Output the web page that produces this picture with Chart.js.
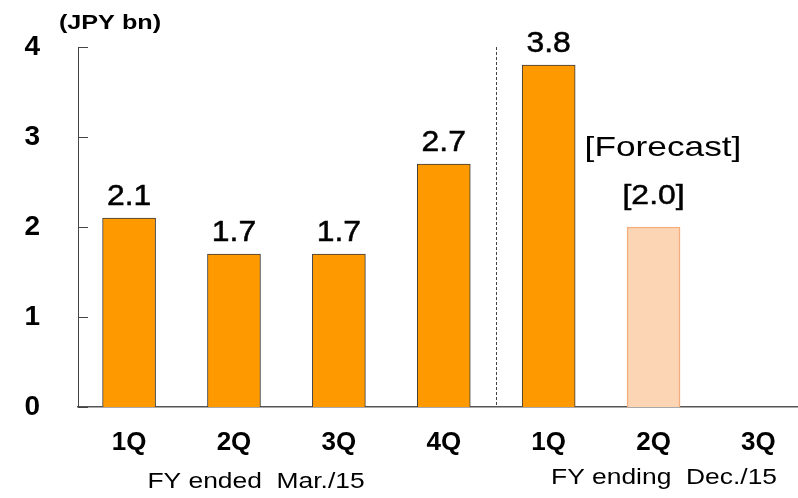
<!DOCTYPE html>
<html>
<head>
<meta charset="utf-8">
<script src="https://cdn.jsdelivr.net/npm/chart.js@4"></script>
<style>
  html, body { margin: 0; padding: 0; background: #fff; overflow: hidden; }
  #wrap { width: 798px; height: 498px; }
</style>
</head>
<body>
<div id="wrap"><canvas id="c" width="798" height="498"></canvas></div>
<script>
// Quarterly figures (JPY bn)
const quarters = ['1Q', '2Q', '3Q', '4Q', '1Q', '2Q', '3Q'];
const actualValues = [2.1, 1.7, 1.7, 2.7, 3.8, null, null];
const forecastValues = [null, null, null, null, null, 2.0, null];
const yTickValues = [0, 1, 2, 3, 4];
const unitText = '(JPY bn)';
const forecastText = '[Forecast]';
const fiscalYearLabels = ['FY ended  Mar./15', 'FY ending  Dec./15'];

const FONT = '"Liberation Sans", Arial, sans-serif';

function toPoints(values) {
  return values
    .map((v, i) => (v === null ? null : { x: i, y: v }))
    .filter(p => p !== null);
}

// Text drawn with an optional horizontal widening and a light outline for weight
function wideText(ctx, text, x, y, font, stretch, heavy) {
  ctx.save();
  ctx.font = font;
  ctx.fillStyle = '#000';
  ctx.strokeStyle = '#000';
  ctx.textAlign = 'center';
  ctx.textBaseline = 'middle';
  ctx.translate(x, y);
  ctx.scale(stretch, 1);
  ctx.fillText(text, 0, 0);
  if (heavy) {
    ctx.lineWidth = heavy;
    ctx.strokeText(text, 0, 0);
  }
  ctx.restore();
}

const annotations = {
  id: 'annotations',
  afterDatasetsDraw(chart) {
    const { ctx, chartArea, scales } = chart;
    const xs = scales.x, ys = scales.y;

    // inward tick marks on the value axis
    ctx.save();
    ctx.strokeStyle = '#444';
    ctx.lineWidth = 1;
    yTickValues.forEach(v => {
      const py = Math.round(ys.getPixelForValue(v)) + 0.5;
      ctx.beginPath();
      ctx.moveTo(chartArea.left, py);
      ctx.lineTo(chartArea.left + 10, py);
      ctx.stroke();
    });

    // dashed divider between the two fiscal years
    const dx = Math.round(xs.getPixelForValue(3.5)) + 0.5;
    ctx.setLineDash([3, 2]);
    ctx.beginPath();
    ctx.moveTo(dx, ys.getPixelForValue(4));
    ctx.lineTo(dx, ys.getPixelForValue(0));
    ctx.stroke();
    ctx.restore();

    // value labels
    chart.getDatasetMeta(0).data.forEach((el, i) => {
      const v = chart.data.datasets[0].data[i].y;
      wideText(ctx, v.toFixed(1), el.x, el.y - 21, `29px ${FONT}`, 1.1, 0.5);
    });
    chart.getDatasetMeta(1).data.forEach((el, i) => {
      const v = chart.data.datasets[1].data[i].y;
      wideText(ctx, '[' + v.toFixed(1) + ']', el.x, el.y - 31, `28px ${FONT}`, 1.14, 0.5);
    });

    // captions
    wideText(ctx, unitText, 110, 23, `bold 21px ${FONT}`, 1.2);
    wideText(ctx, forecastText, 663, 148, `28px ${FONT}`, 1.26);
    wideText(ctx, fiscalYearLabels[0], 256, 482, `22px ${FONT}`, 1.2);
    wideText(ctx, fiscalYearLabels[1], 664, 478, `22px ${FONT}`, 1.2);
  }
};

new Chart(document.getElementById('c'), {
  type: 'bar',
  data: {
    datasets: [
      {
        label: 'Actual',
        data: toPoints(actualValues),
        backgroundColor: '#FF9900',
        borderColor: '#3a3a3a',
        borderWidth: 1,
        barThickness: 53,
        grouped: false
      },
      {
        label: 'Forecast',
        data: toPoints(forecastValues),
        backgroundColor: '#FCD5B5',
        borderColor: '#F6AD7C',
        borderWidth: 1.5,
        barThickness: 53,
        grouped: false
      }
    ]
  },
  options: {
    responsive: false,
    animation: false,
    devicePixelRatio: 1,
    layout: { padding: { top: 47, left: 0, right: 0, bottom: 0 } },
    plugins: { legend: { display: false }, tooltip: { enabled: false } },
    scales: {
      x: {
        type: 'linear',
        offset: false,
        min: -0.487,
        max: 6.377,
        afterBuildTicks: s => { s.ticks = quarters.map((_, i) => ({ value: i })); },
        afterFit: s => { s.height = 91; s.paddingLeft = 0; s.paddingRight = 0; },
        ticks: {
          callback: v => quarters[v],
          autoSkip: false,
          maxRotation: 0,
          color: '#000',
          padding: 20,
          font: { family: FONT, size: 26, weight: 'bold' }
        },
        grid: { display: false, drawTicks: false, offset: false },
        border: { color: '#555', width: 1.5 }
      },
      y: {
        min: 0,
        max: 4,
        afterBuildTicks: s => { s.ticks = yTickValues.map(v => ({ value: v })); },
        afterFit: s => { s.width = 78; s.paddingTop = 0; s.paddingBottom = 0; },
        ticks: {
          color: '#000',
          padding: 38,
          font: { family: FONT, size: 28, weight: 'bold' }
        },
        grid: { display: false, drawTicks: false },
        border: { color: '#444', width: 1 }
      }
    }
  },
  plugins: [annotations]
});
</script>
</body>
</html>
